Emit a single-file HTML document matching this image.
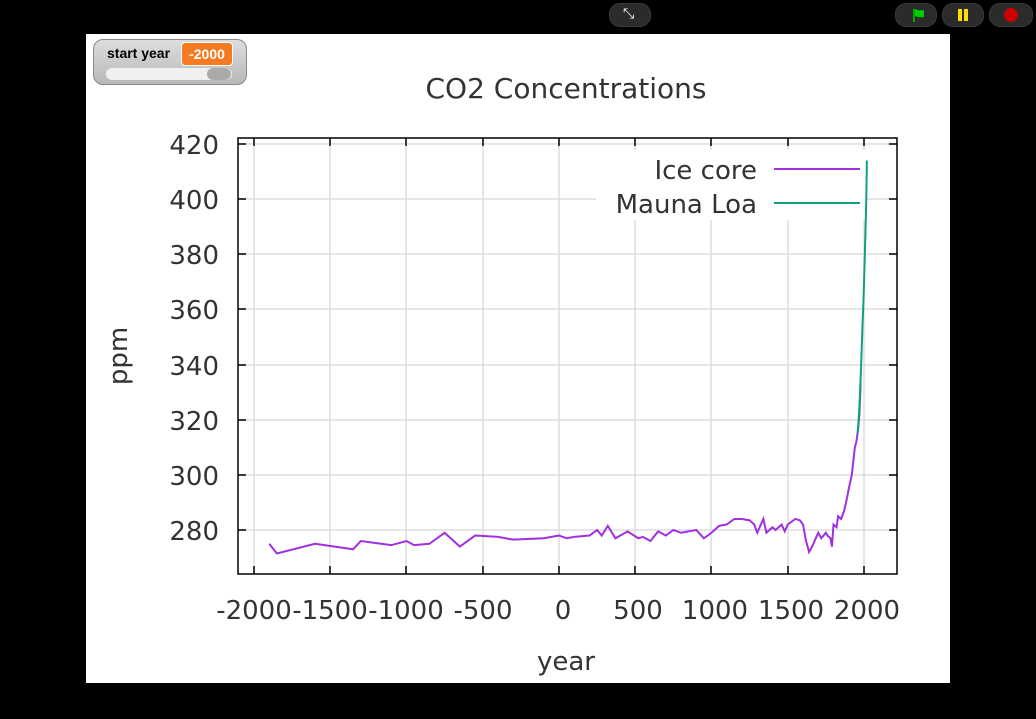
<!DOCTYPE html>
<html><head><style>
body{margin:0;width:1036px;height:719px;background:#000;overflow:hidden;position:relative;font-family:"DejaVu Sans","Liberation Sans",sans-serif}
.btn{position:absolute;top:3px;height:22px;border-radius:11px;background:#2b2b2b;border:1px solid #3a3a3a}
#stage{position:absolute;left:86px;top:34px;width:864px;height:649px;background:#fff}
#mon{position:absolute;left:93px;top:39px;width:152px;height:44px;border-radius:10px;background:linear-gradient(#ddd,#b8b8b8);border:1px solid #888;}
</style></head><body>
<div class="btn" style="left:609px;width:40px"><span style="position:absolute;left:13px;top:2px;color:#fff;font-size:14px">⤡</span></div>
<div class="btn" style="left:895px;width:40px"><svg width="40" height="22"><path d="M18 5v13" stroke="#0a0" stroke-width="2"/><path d="M19 5q4 2 9 1v7q-5 1-9-1z" fill="#0c0"/></svg></div>
<div class="btn" style="left:942px;width:40px"><svg width="40" height="22"><rect x="15" y="5" width="4" height="12" fill="#fd0"/><rect x="21" y="5" width="4" height="12" fill="#fd0"/></svg></div>
<div class="btn" style="left:989px;width:42px"><svg width="42" height="22"><circle cx="21" cy="11" r="7" fill="#c00"/></svg></div>
<div id="stage"></div>
<div id="mon"><span style="position:absolute;left:13px;top:5px;font:bold 14px 'Liberation Sans',sans-serif;color:#000">start year</span>
<span style="position:absolute;left:87px;top:2px;width:50px;height:22px;background:#f47b20;border:1px solid #fff;border-radius:4px;color:#fff;font:bold 14px 'Liberation Sans',sans-serif;text-align:center;line-height:22px">-2000</span>
<span style="position:absolute;left:12px;top:28px;width:126px;height:12px;border-radius:6px;background:#f0f0f0"></span>
<span style="position:absolute;left:113px;top:28px;width:24px;height:12px;border-radius:6px;background:#aaa"></span></div>
<svg width="1036" height="719" style="position:absolute;left:0;top:0" font-family="DejaVu Sans, Liberation Sans, sans-serif" fill="#333">
<text x="566" y="98" font-size="28" text-anchor="middle">CO2 Concentrations</text>
<g stroke="#ddd" stroke-width="1.5">
<path d="M254 138V574M330 138V574M406 138V574M483 138V574M559 138V574M635 138V574M711 138V574M788 138V574M864 138V574"/>
<path d="M238 144H897M238 199H897M238 254H897M238 309H897M238 365H897M238 420H897M238 475H897M238 530H897"/>
</g>
<rect x="596" y="150" width="270" height="70" fill="#fff"/>
<g stroke="#000" stroke-width="1.5">
<path d="M254 574v-8M330 574v-8M406 574v-8M483 574v-8M559 574v-8M635 574v-8M711 574v-8M788 574v-8M864 574v-8M254 138v8M330 138v8M406 138v8M483 138v8M559 138v8M635 138v8M711 138v8M788 138v8M864 138v8"/>
<path d="M238 144h8M238 199h8M238 254h8M238 309h8M238 365h8M238 420h8M238 475h8M238 530h8M897 144h-8M897 199h-8M897 254h-8M897 309h-8M897 365h-8M897 420h-8M897 475h-8M897 530h-8"/>
<rect x="238" y="138" width="659" height="436" fill="none"/>
</g>
<g font-size="26" text-anchor="end">
<text x="219" y="154">420</text><text x="219" y="209">400</text><text x="219" y="264">380</text><text x="219" y="319">360</text><text x="219" y="375">340</text><text x="219" y="430">320</text><text x="219" y="485">300</text><text x="219" y="540">280</text>
</g>
<g font-size="26" text-anchor="middle">
<text x="254" y="619">-2000</text><text x="330" y="619">-1500</text><text x="406" y="619">-1000</text><text x="483" y="619">-500</text><text x="563" y="619">0</text><text x="638" y="619">500</text><text x="715" y="619">1000</text><text x="791" y="619">1500</text><text x="867" y="619">2000</text>
<text x="566" y="670">year</text>
</g>
<text transform="translate(127,356) rotate(-90)" font-size="26" text-anchor="middle">ppm</text>
<g font-size="26" text-anchor="end"><text x="757" y="179">Ice core</text><text x="757" y="213">Mauna Loa</text></g>
<path d="M774 169H860" stroke="#a030e0" stroke-width="2"/>
<path d="M774 203H860" stroke="#10a080" stroke-width="2"/>
<g transform="translate(559,530) scale(0.1525,-2.757) translate(0,-280)" fill="none">
<polyline vector-effect="non-scaling-stroke" stroke="#a030e0" stroke-width="2" points="-1900,275 -1850,271.5 -1600,275 -1350,273 -1300,276 -1100,274.5 -1000,276 -950,274.5 -850,275 -750,279 -650,274 -550,278 -400,277.5 -300,276.5 -100,277 0,278 50,277 100,277.5 200,278 250,280 280,278 320,281.5 370,277 450,279.5 520,277 550,277.5 600,276 650,279.5 700,278 750,280 800,279 900,280 950,277 1000,279 1050,281.5 1100,282 1150,284 1200,284 1250,283.5 1280,282 1300,279 1340,284 1360,279 1400,281 1420,280 1460,282 1480,279.5 1500,282 1550,284 1580,283.5 1600,282 1620,276 1640,272 1660,274 1700,279 1720,277 1750,279 1760,278 1780,277 1790,274 1800,282 1820,281 1830,285 1850,284 1870,287 1890,292 1900,295 1920,300 1930,305 1940,310 1950,312 1960,316 1970,322 1978,333"/>
<polyline vector-effect="non-scaling-stroke" stroke="#10a080" stroke-width="2" points="1958,315 1965,320 1970,325 1975,331 1980,338 1985,346 1990,354 1995,361 2000,369 2005,379 2010,389 2015,400 2019,414"/>
</g>
</svg>
</body></html>
